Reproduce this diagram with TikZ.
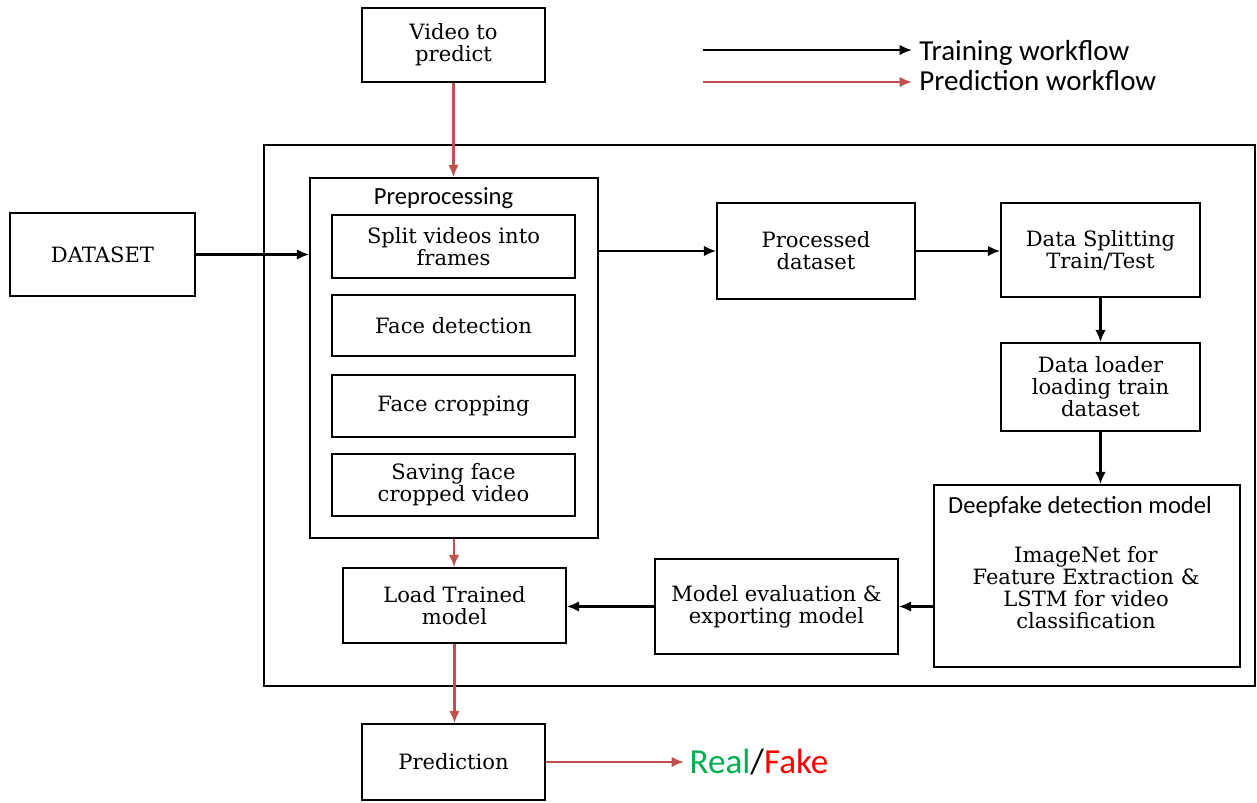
\documentclass[tikz,border=0pt]{standalone}
\usepackage{fontspec}
\setmainfont{DejaVu Serif}
\newfontfamily\lblfont{Carlito}
\usetikzlibrary{arrows.meta}
\definecolor{predred}{HTML}{C0504D}
\definecolor{realgreen}{HTML}{00B050}
\tikzset{
  box/.style={draw, line width=0.9pt, align=center, font=\fontsize{12}{12.5}\selectfont},
  train/.style={-{Latex[length=7pt,width=6pt]}, line width=1.6pt},
  predict/.style={-{Latex[length=7pt,width=6pt]}, line width=1.4pt, predred},
}
\begin{document}
\begin{tikzpicture}[x=0.02cm, y=-0.02cm]
\useasboundingbox (0,0) rectangle (1257,803);
% outer frame
\draw[line width=0.9pt] (264,145) rectangle (1255,686);
\node[box, minimum width=3.66cm, minimum height=1.48cm] (video) at (453.5,45) {Video to\\predict};
\node[box, minimum width=3.7cm, minimum height=1.66cm] (dataset) at (102.5,254.5) {DATASET};
\node[box, minimum width=5.76cm, minimum height=7.2cm] (prep) at (454,358) {};
\node[font=\lblfont\fontsize{14}{16}\selectfont] (preplbl) at (443.5,198) {Preprocessing};
\node[box, minimum width=4.86cm, minimum height=1.26cm] (split) at (453.5,246.5) {Split videos into\\frames};
\node[box, minimum width=4.86cm, minimum height=1.22cm] (facedet) at (453.5,325.5) {Face detection};
\node[box, minimum width=4.86cm, minimum height=1.24cm] (facecrop) at (453.5,406) {Face cropping};
\node[box, minimum width=4.86cm, minimum height=1.24cm] (saving) at (453.5,485) {Saving face\\cropped video};
\node[box, minimum width=3.96cm, minimum height=1.92cm] (processed) at (816,251) {Processed\\dataset};
\node[box, minimum width=3.98cm, minimum height=1.88cm] (datasplit) at (1100.5,250) {Data Splitting\\Train/Test};
\node[box, minimum width=3.98cm, minimum height=1.76cm] (loader) at (1100.5,387) {Data loader\\loading train\\dataset};
\node[box, minimum width=6.12cm, minimum height=3.64cm] (deepfake) at (1087,576) {};
\node[font=\lblfont\fontsize{14}{16}\selectfont] (deeplbl) at (1080,507) {Deepfake detection model};
\node[align=center, font=\fontsize{12}{12.5}\selectfont] (deeptxt) at (1086,588) {ImageNet for\\Feature Extraction \&\\LSTM for video\\classification};
\node[box, minimum width=4.86cm, minimum height=1.9cm] (modeleval) at (776.5,606.5) {Model evaluation \&\\exporting model};
\node[box, minimum width=4.46cm, minimum height=1.5cm] (load) at (454.5,605.5) {Load Trained\\model};
\node[box, minimum width=3.66cm, minimum height=1.52cm] (prediction) at (453.5,762) {Prediction};
\node[anchor=west, inner sep=3pt, font=\lblfont\fontsize{20}{22}\selectfont] (realfake) at (684,762) {\textcolor{realgreen}{Real}/\textcolor{red}{Fake}};
% legend
\coordinate (lgtrain) at (703,50);
\coordinate (lgpred) at (703,82);
\node[anchor=west, inner sep=4pt, font=\lblfont\fontsize{16.5}{18}\selectfont] (trainlbl) at (912,53) {Training workflow};
\node[anchor=west, inner sep=4pt, font=\lblfont\fontsize{16.5}{18}\selectfont] (predlbl) at (912,81) {Prediction workflow};
\draw[train] (lgtrain) -- (lgtrain -| trainlbl.west);
\draw[predict] (lgpred) -- (lgpred -| predlbl.west);
% training workflow
\draw[train] (dataset.east) -- (dataset.east -| prep.west);
\draw[train] (prep.east |- processed.west) -- (processed.west);
\draw[train] (processed.east) -- (processed.east -| datasplit.west);
\draw[train] (datasplit.south) -- (loader.north);
\draw[train] (loader.south) -- (loader.south |- deepfake.north);
\draw[train] (deepfake.west |- modeleval.east) -- (modeleval.east);
\draw[train] (modeleval.west) -- (modeleval.west -| load.east);
% prediction workflow
\draw[predict] (video.south) -- (video.south |- prep.north);
\draw[predict] (prep.south) -- (prep.south |- load.north);
\draw[predict] (load.south) -- (load.south |- prediction.north);
\draw[predict] (prediction.east) -- (realfake.west);
\end{tikzpicture}
\end{document}
